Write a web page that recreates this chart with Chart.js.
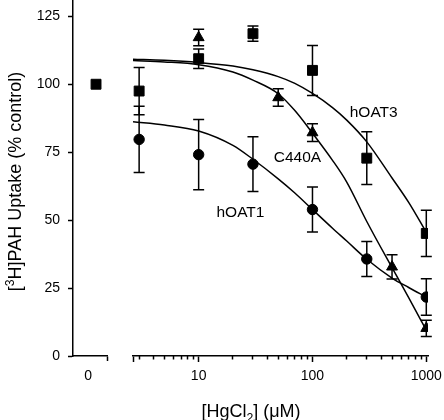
<!DOCTYPE html>
<html><head><meta charset="utf-8">
<script src="https://cdn.jsdelivr.net/npm/chart.js@4/dist/chart.umd.min.js"></script>
<style>
html,body{margin:0;padding:0;background:#fff;}
#wrap{position:relative;width:444px;height:420px;background:#fff;}
canvas{position:absolute;left:0;top:0;}
</style></head><body>
<div id="wrap"><canvas id="c0" width="444" height="420"></canvas><canvas id="c1" width="444" height="420"></canvas></div>
<script>
// ---- data ----
const controlDose = [0];
const controlUptake = [100];
const hoat1Doses = [3, 10, 30, 100, 300, 1000];
const hoat1Uptake = [79.7, 74.1, 70.6, 53.9, 35.7, 21.7];
const hoat1Err = [12.2, 12.9, 10.1, 8.3, 6.4, 6.7];
const c440aDoses = [10, 50, 100, 500, 1000];
const c440aUptake = [117.2, 95.1, 82.2, 32.8, 10.2];
const c440aErr = [3.0, 3.2, 3.3, 4.5, 3.0];
const hoat3Doses = [3, 10, 30, 100, 300, 1000];
const hoat3Uptake = [97.5, 109.4, 118.6, 105.1, 72.8, 45.1];
const hoat3Err = [8.7, 3.6, 2.8, 9.2, 9.7, 8.5];
// fitted curves
const curveDoses = [2.65, 5, 10, 20, 30, 50, 70, 100, 150, 200, 300, 500, 700, 1000];
const hoat1Curve = [86.2, 85.0, 82.8, 77.5, 72.4, 65.2, 60.0, 53.9, 47.0, 42.3, 35.6, 28.7, 25.2, 21.7];
const c440aCurve = [108.7, 108.2, 107.2, 104.5, 101.5, 96.5, 90.3, 82.0, 72.0, 64.0, 49.5, 32.5, 21.5, 9.5];
const hoat3Curve = [109.2, 108.8, 108.0, 106.7, 105.3, 102.8, 100.3, 96.6, 91.4, 86.8, 78.8, 65.5, 56.5, 45.5];
// axes
const yTicks = [0, 25, 50, 75, 100, 125];
const xMajorTicks = [10, 100, 1000];
const xMinorTicks = [3, 4, 5, 6, 7, 8, 9, 20, 30, 40, 50, 60, 70, 80, 90, 200, 300, 400, 500, 600, 700, 800, 900];
const xMin = 2.65, xMax = 1035, yMin = 0, yMax = 131;
// curve labels (anchored at data coordinates)
const curveLabels = ['hOAT1', 'C440A', 'hOAT3'];
const labelDose = [23.3, 73.8, 345];
const labelUptake = [51.2, 71.4, 88.0];

const FF = '"Liberation Sans", Arial, Helvetica, sans-serif';
const pts = (xs, ys) => xs.map((x, i) => ({x: x, y: ys[i]}));
const noPad = s => { s.paddingLeft = 0; s.paddingRight = 0; s.paddingTop = 0; s.paddingBottom = 0; };

const errorBars = {
  id: 'errorBars',
  afterDatasetsDraw(chart) {
    const ctx = chart.ctx, xs = chart.scales.x, ys = chart.scales.y;
    chart.data.datasets.forEach(ds => {
      if (!ds.errors) return;
      ctx.save();
      ctx.strokeStyle = '#000'; ctx.lineWidth = 1.5;
      ds.data.forEach((p, j) => {
        const e = ds.errors[j];
        const x = xs.getPixelForValue(p.x);
        const y1 = ys.getPixelForValue(p.y + e), y2 = ys.getPixelForValue(p.y - e);
        ctx.beginPath();
        ctx.moveTo(x, y1); ctx.lineTo(x, y2);
        ctx.moveTo(x - 5.5, y1); ctx.lineTo(x + 5.5, y1);
        ctx.moveTo(x - 5.5, y2); ctx.lineTo(x + 5.5, y2);
        ctx.stroke();
      });
      ctx.restore();
    });
  }
};

function fontFor(kind, size) {
  const s = kind === 'n' ? size : size * 0.68;
  return s + 'px ' + FF;
}
function runsWidth(ctx, runs, size) {
  let w = 0;
  runs.forEach(r => { ctx.font = fontFor(r[1], size); w += ctx.measureText(r[0]).width; });
  return w;
}
function drawRuns(ctx, runs, size, x0, y0) {
  let x = x0;
  runs.forEach(r => {
    ctx.font = fontFor(r[1], size);
    const dy = r[1] === 'sub' ? size * 0.28 : (r[1] === 'sup' ? -size * 0.38 : 0);
    ctx.fillText(r[0], x, y0 + dy);
    x += ctx.measureText(r[0]).width;
  });
}

const texts = {
  id: 'texts',
  afterDraw(chart) {
    const ctx = chart.ctx;
    ctx.save();
    ctx.fillStyle = '#000';
    ctx.textBaseline = 'alphabetic';
    ctx.textAlign = 'left';
    // x axis title
    const xr = [['[HgCl', 'n'], ['2', 'sub'], ['] (\u03BCM)', 'n']];
    const xw = runsWidth(ctx, xr, 18);
    drawRuns(ctx, xr, 18, 251 - xw / 2, 417);
    // y axis title
    const yr = [['[', 'n'], ['3', 'sup'], ['H]PAH Uptake (% control)', 'n']];
    const yw = runsWidth(ctx, yr, 18);
    ctx.save();
    ctx.translate(20.5, 181.5);
    ctx.rotate(-Math.PI / 2);
    drawRuns(ctx, yr, 18, -yw / 2, 0);
    ctx.restore();
    // curve labels
    ctx.font = '15.5px ' + FF;
    ctx.textAlign = 'center';
    const xs = chart.scales.x, ys = chart.scales.y;
    curveLabels.forEach((t, i) => {
      ctx.fillText(t, xs.getPixelForValue(labelDose[i]), ys.getPixelForValue(labelUptake[i]));
    });
    ctx.restore();
  }
};

const tickFont = {size: 14, family: FF};

// ---- left panel: control (0) + y axis ----
new Chart(document.getElementById('c0'), {
  type: 'scatter',
  data: {datasets: [{
    data: pts(controlDose, controlUptake),
    pointStyle: 'rect', pointRadius: 7, backgroundColor: '#000', borderColor: '#000', borderWidth: 1
  }]},
  options: {
    responsive: false, animation: false, devicePixelRatio: 1,
    layout: {autoPadding: false, padding: {left: 0, right: 337, top: 0, bottom: 0}},
    plugins: {legend: {display: false}, tooltip: {enabled: false}},
    scales: {
      x: {
        type: 'linear', min: -2.1, max: 1,
        afterBuildTicks: s => { s.ticks = [{value: 0}, {value: 1}]; },
        afterFit: s => { s.height = 64; noPad(s); },
        grid: {display: true, drawOnChartArea: false, tickLength: 5, tickWidth: 1.5,
               tickColor: c => (c.tick && c.tick.value === 1) ? '#000' : 'rgba(0,0,0,0)'},
        border: {display: true, color: '#000', width: 1.5},
        ticks: {callback: v => v === 0 ? '0' : '', color: '#000', font: tickFont, padding: 7,
                labelOffset: -8, maxRotation: 0, autoSkip: false}
      },
      y: {
        min: yMin, max: yMax,
        afterBuildTicks: s => { s.ticks = yTicks.map(v => ({value: v})); },
        afterFit: s => { s.width = 73; noPad(s); },
        grid: {display: true, drawOnChartArea: false, tickLength: 5, tickWidth: 1.5, tickColor: '#000'},
        border: {display: true, color: '#000', width: 1.5},
        ticks: {color: '#000', font: tickFont, padding: 8}
      }
    }
  }
});

// ---- main panel: log dose axis ----
const curveStyle = {showLine: true, pointRadius: 0, borderColor: '#000', borderWidth: 1.5,
                    cubicInterpolationMode: 'monotone', fill: false};
new Chart(document.getElementById('c1'), {
  type: 'scatter',
  data: {datasets: [
    Object.assign({label: 'hOAT3 fit', data: pts(curveDoses, hoat3Curve)}, curveStyle),
    Object.assign({label: 'C440A fit', data: pts(curveDoses, c440aCurve)}, curveStyle),
    Object.assign({label: 'hOAT1 fit', data: pts(curveDoses, hoat1Curve)}, curveStyle),
    {label: 'hOAT3', data: pts(hoat3Doses, hoat3Uptake), errors: hoat3Err, pointStyle: 'rect',
     pointRadius: 7, backgroundColor: '#000', borderColor: '#000', borderWidth: 1},
    {label: 'C440A', data: pts(c440aDoses, c440aUptake), errors: c440aErr, pointStyle: 'triangle',
     pointRadius: 6.3, backgroundColor: '#000', borderColor: '#000', borderWidth: 1},
    {label: 'hOAT1', data: pts(hoat1Doses, hoat1Uptake), errors: hoat1Err, pointStyle: 'circle',
     pointRadius: 5.2, backgroundColor: '#000', borderColor: '#000', borderWidth: 1}
  ]},
  options: {
    responsive: false, animation: false, devicePixelRatio: 1,
    layout: {autoPadding: false, padding: {left: 133, right: 16, top: 0, bottom: 0}},
    plugins: {legend: {display: false}, tooltip: {enabled: false}},
    scales: {
      x: {
        type: 'logarithmic', min: xMin, max: xMax, weight: 1,
        afterBuildTicks: s => { s.ticks = [{value: xMin}].concat(xMajorTicks.map(v => ({value: v}))); },
        afterFit: s => { s.height = 64; noPad(s); },
        grid: {display: true, drawOnChartArea: false, tickLength: 6, tickWidth: 1.5, tickColor: '#000'},
        border: {display: true, color: '#000', width: 1.5},
        ticks: {callback: v => xMajorTicks.indexOf(v) >= 0 ? String(v) : '', color: '#000', font: tickFont,
                padding: 6, maxRotation: 0, autoSkip: false}
      },
      xMinor: {
        type: 'logarithmic', position: 'bottom', min: xMin, max: xMax, weight: 0,
        afterBuildTicks: s => { s.ticks = xMinorTicks.map(v => ({value: v})); },
        afterFit: s => { s.height = 0; noPad(s); },
        grid: {display: true, drawOnChartArea: false, tickLength: 3.5, tickWidth: 1.5, tickColor: '#000'},
        border: {display: false},
        ticks: {display: false}
      },
      y: {
        min: yMin, max: yMax, display: false,
        afterFit: s => { noPad(s); }
      }
    }
  },
  plugins: [errorBars, texts]
});
</script>
</body></html>
